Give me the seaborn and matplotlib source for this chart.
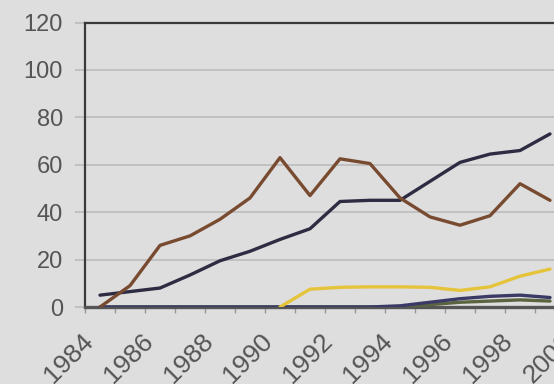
import numpy as np
import pandas as pd
import matplotlib
matplotlib.use("Agg")
import matplotlib.pyplot as plt
import matplotlib.transforms as mtransforms
import seaborn as sns

# values (one per year); nan = series not there yet
years = list(range(1984, 2000))
brown_vals = [0, 9, 26, 30, 37, 46, 63, 47, 62.5, 60.5, 46, 38, 34.5, 38.5, 52, 45]
navy_vals = [5, 6.5, 8, 13.5, 19.5, 23.5, 28.5, 33, 44.5, 45, 45, 53, 61, 64.5, 66, 73]
yellow_vals = [np.nan, np.nan, np.nan, np.nan, np.nan, np.nan, 0, 7.5, 8.3, 8.5, 8.5, 8.3, 7, 8.5, 13, 16]
purple_vals = [0, 0, 0, 0, 0, 0, 0, 0, 0, 0, 0.5, 2, 3.5, 4.5, 5, 4]
olive_vals = [0, 0, 0, 0, 0, 0, 0, 0, 0, 0, 0, 1, 2, 2.5, 3, 2.5]
series_names = ["olive", "purple", "yellow", "navy", "brown"]
y_ticks = [0, 20, 40, 60, 80, 100, 120]
x_labels = list(range(1984, 2001, 2))

colors = {"olive": "#5b6440", "purple": "#3b3a66", "yellow": "#e5c43c",
          "navy": "#2d2c42", "brown": "#784b30"}

rows = []
for name, vals in zip(series_names, [olive_vals, purple_vals, yellow_vals, navy_vals, brown_vals]):
    for yr, v in zip(years, vals):
        rows.append({"year": yr, "value": v, "series": name})
df = pd.DataFrame(rows).dropna()

sns.set_style("white", {"axes.facecolor": "#dedede", "figure.facecolor": "#dedede"})
plt.rcParams["font.family"] = ["Liberation Sans", "DejaVu Sans"]

fig = plt.figure(figsize=(5.54, 3.84), dpi=100)
# axes runs past the right edge of the picture, like the cropped scan
ax = fig.add_axes([85 / 554, 77 / 384, 510 / 554, 284.5 / 384])

sns.lineplot(data=df, x="year", y="value", hue="series", hue_order=series_names,
             palette=colors, linewidth=2.4, legend=False, ax=ax, zorder=3)

ax.set_xlim(1983.5, 2000.5)
ax.set_ylim(0, 120)
ax.set_yticks(y_ticks)
ax.set_xticks(x_labels)
ax.set_xticklabels([str(x) for x in x_labels], rotation=45, ha="right",
                   rotation_mode="anchor", va="top")
ax.set_xticks([y + 0.5 for y in range(1983, 2001)], minor=True)
ax.set_xlabel("")
ax.set_ylabel("")

ax.yaxis.grid(True, color="#bcbcbc", linewidth=1.2)
ax.set_axisbelow(True)
ax.tick_params(axis="y", length=7, width=1.2, color="#bcbcbc", pad=9,
               labelsize=17, labelcolor="#555555", left=True)
ax.tick_params(axis="x", which="major", length=0, pad=16, labelsize=19,
               labelcolor="#555555")
ax.tick_params(axis="x", which="minor", length=4, width=1, color="#999999",
               bottom=True)

# nudge the slanted year labels left a little
shift = mtransforms.ScaledTranslation(-14 / 72, 0, fig.dpi_scale_trans)
for lab in ax.get_xticklabels():
    lab.set_transform(lab.get_transform() + shift)

for side in ["left", "top"]:
    ax.spines[side].set_color("#3a3a3a")
    ax.spines[side].set_linewidth(1.6)
ax.spines["bottom"].set_color("#555555")
ax.spines["bottom"].set_linewidth(2.4)
ax.spines["right"].set_visible(False)

fig.savefig("out.png", dpi=100)
